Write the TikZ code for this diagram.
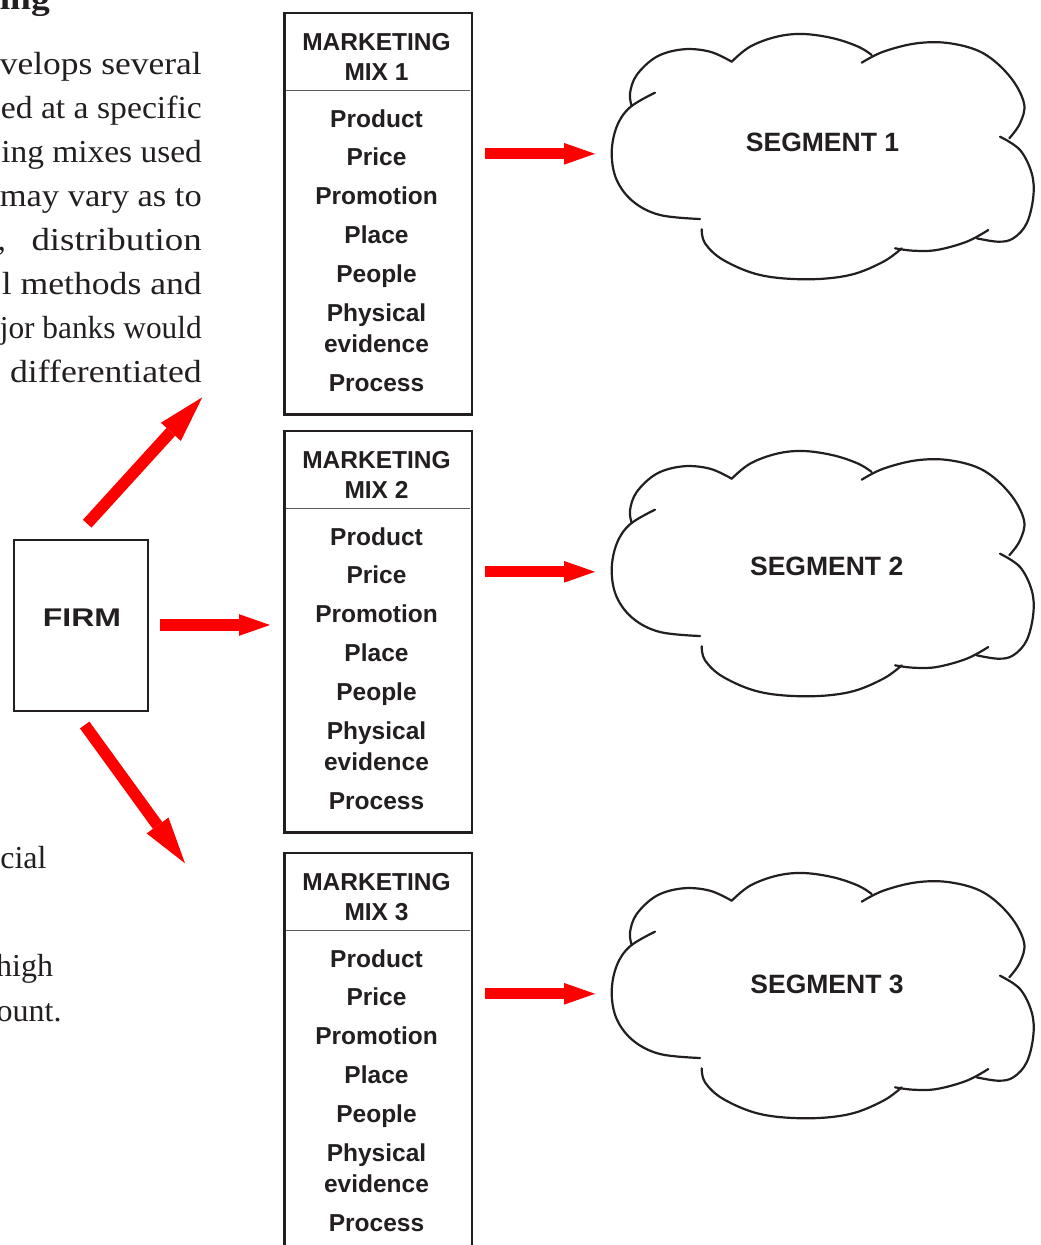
\documentclass[tikz,border=0pt]{standalone}
\usepackage{graphicx}
\usepackage{fontspec}
\setmainfont{Liberation Serif}
\newfontfamily\hv{Liberation Sans}
\usetikzlibrary{arrows.meta}
\definecolor{ink}{HTML}{231F20}
\definecolor{divgray}{HTML}{5A5A5A}
\begin{document}
\begin{tikzpicture}[x=1pt,y=-1pt,
  lefttxt/.style={anchor=base east, inner sep=0pt, text=ink, font=\fontsize{32pt}{32pt}\selectfont},
  mixbox/.style={draw=ink, line width=2.4pt, minimum width=187.4pt, minimum height=401.6pt, inner sep=0pt},
  firmbox/.style={draw=ink, line width=2.2pt, minimum width=133.7pt, minimum height=171pt, inner sep=0pt},
  divider/.style={draw=divgray, line width=1.2pt},
  mixtxt/.style={anchor=base, inner sep=0pt, text=ink, font=\hv\bfseries\fontsize{24.5pt}{24.5pt}\selectfont},
  segtxt/.style={anchor=base, inner sep=0pt, text=ink, font=\hv\bfseries\fontsize{26.5pt}{26.5pt}\selectfont},
  cloudline/.style={draw=ink, line width=2.2pt, line cap=round},
  redarrow/.style={draw=red, line width=11.3pt, -{Triangle[length=31pt 0 0, width=21.7pt 0 0, line width=0pt 0 0, fill=red]}},
  bigarrow/.style={draw=red, line width=11.6pt, -{Triangle[length=46.7pt 0 0, width=27pt 0 0, line width=0pt 0 0, fill=red]}},
  cloudpic/.pic={
    \draw[cloudline] plot[smooth, tension=0.6] coordinates {(655,92.7) (630,107.3) (616.7,126.7) (611.7,153.3) (616.7,180) (633.3,201.7) (660,215) (700,219)};
    \draw[cloudline] plot[smooth, tension=0.6] coordinates {(631.7,106) (630,93.3) (636.7,75) (656.7,56.7) (683.3,49.3) (710,51.7) (731.7,61.7)};
    \draw[cloudline] plot[smooth, tension=0.6] coordinates {(731.7,61.7) (750,46.7) (776.7,36.7) (803.3,34) (833.3,38.3) (858.3,46.7) (871.7,55)};
    \draw[cloudline] plot[smooth, tension=0.6] coordinates {(861.7,62.7) (883.3,51.7) (916.7,43.3) (950,43.3) (983.3,53.3) (1010,76.7) (1024,103.3) (1020,123.3) (1009.3,138.3)};
    \draw[cloudline] plot[smooth, tension=0.6] coordinates {(1000,136.7) (1020,150) (1031.7,173.3) (1033.3,196.7) (1026.7,223.3) (1013.3,238.3) (998.3,241.7) (976.7,238.3)};
    \draw[cloudline] plot[smooth, tension=0.6] coordinates {(988.3,230) (966.7,241.7) (936.7,250) (913.3,250.7) (895,248.3)};
    \draw[cloudline] plot[smooth, tension=0.6] coordinates {(901.7,248.3) (883.3,261.7) (850,275) (806.7,279.3) (760,275) (723.3,260) (705,243.3) (701.7,229.3)};
  }
]
\useasboundingbox (0,0) rectangle (1041,1245);
\clip (0,0) rectangle (1041,1245);
\fill[white] (0,0) rectangle (1041,1245);

% cropped page text on the left
\node[lefttxt] (t0) at (50,9.3) {\resizebox{50pt}{\height}{\bfseries ing}};
\node[lefttxt] (t1) at (202,74) {\resizebox{202pt}{\height}{velops several}};
\node[lefttxt] (t2) at (202,118.3) {\resizebox{201pt}{\height}{ed at a specific}};
\node[lefttxt] (t3) at (202,162.3) {\resizebox{200.5pt}{\height}{ing mixes used}};
\node[lefttxt] (t4) at (202,206.3) {\resizebox{202pt}{\height}{may vary as to}};
\node[lefttxt] (t5a) at (6,250.3) {s,};
\node[lefttxt] (t5b) at (202,250.3) {\resizebox{170.3pt}{\height}{distribution}};
\node[lefttxt] (t6) at (202,294.3) {\resizebox{200pt}{\height}{l methods and}};
\node[lefttxt] (t7) at (202,338.3) {\resizebox{202pt}{\height}{jor banks would}};
\node[lefttxt] (t8) at (202,382.3) {\resizebox{191.7pt}{\height}{differentiated}};
\node[lefttxt] (t9) at (46.7,868.3) {cial};
\node[lefttxt] (t10) at (53.3,976.7) {high};
\node[lefttxt] (t11) at (61.7,1021.7) {ount.};

% firm
\node[firmbox] (firm) at (81.2,625.5) {};
\node[mixtxt, font=\hv\bfseries\fontsize{25.6pt}{25.6pt}\selectfont] (firmtxt) at (82,626) {\scalebox{1.25}[1]{FIRM}};

\coordinate (fu0) at (87.2,523.7);
\coordinate (fu1) at (202.3,397.3);
\coordinate (fm0) at (160,625);
\coordinate (fm1) at (270,625);
\coordinate (fd0) at (84.7,725);
\coordinate (fd1) at (185,863.3);
\draw[bigarrow] (fu0) -- (fu1);
\draw[redarrow] (fm0) -- (fm1);
\draw[bigarrow] (fd0) -- (fd1);

% marketing mixes and segments
\foreach \i/\dy/\cy/\sx/\sy in {1/0/0/822.5/151.7, 2/418/417/826.7/575, 3/840/839/827/993.3}{
  \begin{scope}[shift={(0,\dy)}]
    \node[mixbox] (mix\i) at (378,213.5) {};
    \coordinate (dl\i) at (285.5,90.7);
    \coordinate (dr\i) at (469.5,90.7);
    \draw[divider] (dl\i) -- (dr\i);
    \node[mixtxt] (mk\i) at (376.5,50) {MARKETING};
    \node[mixtxt] (mx\i) at (376.5,80.7) {MIX \i};
    \node[mixtxt] (pd\i) at (376.5,127.7) {Product};
    \node[mixtxt] (pc\i) at (376.5,165.9) {Price};
    \node[mixtxt] (pm\i) at (376.5,204.4) {Promotion};
    \node[mixtxt] (pl\i) at (376.5,243.3) {Place};
    \node[mixtxt] (pp\i) at (376.5,282.5) {People};
    \node[mixtxt] (ph\i) at (376.5,321.7) {Physical};
    \node[mixtxt] (ev\i) at (376.5,352.7) {evidence};
    \node[mixtxt] (ps\i) at (376.5,391.7) {Process};
    \coordinate (ma\i) at (485,153.8);
    \coordinate (mb\i) at (595,153.8);
    \draw[redarrow] (ma\i) -- (mb\i);
  \end{scope}
  \pic at (0,\cy) {cloudpic};
  \node[segtxt] (seg\i) at (\sx,\sy) {SEGMENT \i};
}
\end{tikzpicture}
\end{document}
